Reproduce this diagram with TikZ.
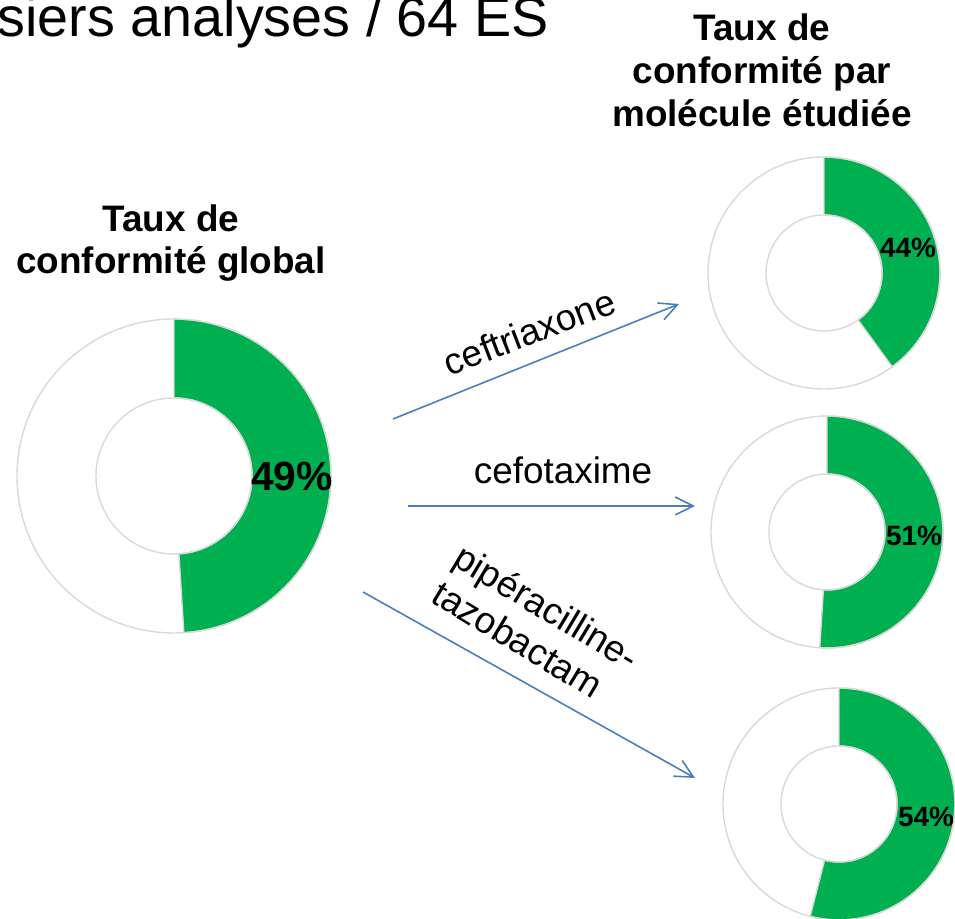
\documentclass[tikz,border=0pt]{standalone}
\usepackage{fontspec}
\setmainfont{Liberation Sans}
\usetikzlibrary{arrows.meta}
\definecolor{okgreen}{HTML}{00B050}
\definecolor{ringgray}{HTML}{D9D9D9}
\definecolor{linkblue}{HTML}{4A7EBB}

\begin{document}
\begin{tikzpicture}[x=0.02cm,y=0.02cm,
  slice/.style={fill=okgreen,draw=ringgray,line width=0.8pt},
  ring/.style={draw=ringgray,line width=0.8pt},
  link/.style={draw=linkblue,line width=0.9pt,-{Straight Barb[length=3.6mm,width=3.6mm]}},
  ttl/.style={font=\bfseries\fontsize{21}{24.4}\selectfont,align=center},
  drug/.style={font=\fontsize{21}{24.4}\selectfont},
  pctbig/.style={font=\bfseries\fontsize{23.2}{28}\selectfont},
  pct/.style={font=\bfseries\fontsize{15.9}{19}\selectfont}]
  \useasboundingbox (0,0) rectangle (955,918);
  \node[anchor=base east,font=\fontsize{31.7}{38}\selectfont] (head) at (555,881) {siers analyses / 64 ES};
  \node[ttl] (ttlglobal) at (171,675) {Taux de\\conformit\'e global};
  \node[ttl] (ttlmol) at (762,848) {Taux de\\conformit\'e par\\mol\'ecule \'etudi\'ee};
  \filldraw[slice] (174,599) arc[start angle=90,end angle=-86.4,radius=157] -- ([shift={(174,442)}]-86.4:78) arc[start angle=-86.4,end angle=90,radius=78] -- cycle;
  \draw[ring] (174,442) circle[radius=157];
  \draw[ring] (174,442) circle[radius=78];
  \filldraw[slice] (824,761) arc[start angle=90,end angle=-54,radius=116] -- ([shift={(824,645)}]-54:58) arc[start angle=-54,end angle=90,radius=58] -- cycle;
  \draw[ring] (824,645) circle[radius=116];
  \draw[ring] (824,645) circle[radius=58];
  \filldraw[slice] (827,502) arc[start angle=90,end angle=-93.6,radius=116] -- ([shift={(827,386)}]-93.6:58) arc[start angle=-93.6,end angle=90,radius=58] -- cycle;
  \draw[ring] (827,386) circle[radius=116];
  \draw[ring] (827,386) circle[radius=58];
  \filldraw[slice] (839,230) arc[start angle=90,end angle=-104.4,radius=116] -- ([shift={(839,114)}]-104.4:58) arc[start angle=-104.4,end angle=90,radius=58] -- cycle;
  \draw[ring] (839,114) circle[radius=116];
  \draw[ring] (839,114) circle[radius=58];
  \node[pctbig] (pglobal) at (292,442) {49\%};
  \node[pct] (pceftri) at (908,670) {44\%};
  \node[pct] (pcefo) at (914,382) {51\%};
  \node[pct] (ppip) at (926,101) {54\%};
  \coordinate (srcceftri) at (393,499);
  \coordinate (dstceftri) at (679,614);
  \coordinate (srccefo) at (408,412);
  \coordinate (dstcefo) at (695,412);
  \coordinate (srcpip) at (363,326);
  \coordinate (dstpip) at (695,140);
  \draw[link] (srcceftri) -- (dstceftri);
  \draw[link] (srccefo) -- (dstcefo);
  \draw[link] (srcpip) -- (dstpip);
  \node[drug,anchor=base,rotate=21] (lceftri) at (534,574) {ceftriaxone};
  \node[drug,anchor=base] (lcefo) at (563,434) {cefotaxime};
  \node[drug,align=left,rotate=-31] (lpip) at (536,293) {pip\'eracilline-\\tazobactam};
\end{tikzpicture}
\end{document}
